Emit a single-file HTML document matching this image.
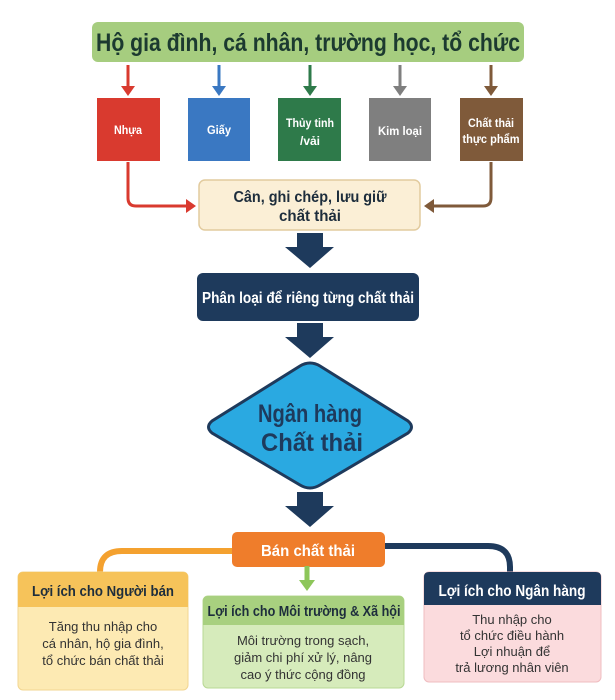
<!DOCTYPE html>
<html><head><meta charset="utf-8"><style>
html,body{margin:0;padding:0;background:#fff;}
svg{display:block;}
.c{font-family:"Liberation Sans Narrow","Liberation Sans",sans-serif;font-weight:bold;}
.r{font-family:"Liberation Sans",sans-serif;}
</style></head><body>
<svg width="615" height="700" viewBox="0 0 615 700" xmlns="http://www.w3.org/2000/svg">
<rect x="92" y="22" width="432" height="40" rx="6" fill="#a6cd7f"/>
<text x="96" y="51" class="c" font-size="25" fill="#1c3a30" textLength="424" lengthAdjust="spacingAndGlyphs">Hộ gia đình, cá nhân, trường học, tổ chức</text>
<g stroke-width="3">
<line x1="128" y1="65" x2="128" y2="88" stroke="#d93a2f"/><polygon points="121,86 135,86 128,96" fill="#d93a2f"/>
<line x1="219" y1="65" x2="219" y2="88" stroke="#3a78c2"/><polygon points="212,86 226,86 219,96" fill="#3a78c2"/>
<line x1="310" y1="65" x2="310" y2="88" stroke="#2e7a4a"/><polygon points="303,86 317,86 310,96" fill="#2e7a4a"/>
<line x1="400" y1="65" x2="400" y2="88" stroke="#7f7f7f"/><polygon points="393,86 407,86 400,96" fill="#7f7f7f"/>
<line x1="491" y1="65" x2="491" y2="88" stroke="#7f5a3a"/><polygon points="484,86 498,86 491,96" fill="#7f5a3a"/>
</g>
<rect x="97" y="98" width="63" height="63" fill="#d93a2f"/>
<rect x="188" y="98" width="62" height="63" fill="#3a78c2"/>
<rect x="278" y="98" width="63" height="63" fill="#2e7a4a"/>
<rect x="369" y="98" width="62" height="63" fill="#7f7f7f"/>
<rect x="460" y="98" width="63" height="63" fill="#7f5a3a"/>
<g class="c" font-size="12" fill="#fff" text-anchor="middle" lengthAdjust="spacingAndGlyphs">
<text x="128" y="134" textLength="28" lengthAdjust="spacingAndGlyphs">Nhựa</text>
<text x="219" y="134" textLength="24" lengthAdjust="spacingAndGlyphs">Giấy</text>
<text x="310" y="127" textLength="48" lengthAdjust="spacingAndGlyphs">Thủy tinh</text><text x="310" y="145" textLength="20" lengthAdjust="spacingAndGlyphs">/vải</text>
<text x="400" y="135" textLength="44" lengthAdjust="spacingAndGlyphs">Kim loại</text>
<text x="491" y="127" textLength="46" lengthAdjust="spacingAndGlyphs">Chất thải</text><text x="491" y="143" textLength="57" lengthAdjust="spacingAndGlyphs">thực phẩm</text>
</g>
<path d="M128 162 V198 Q128 206 136 206 H188" fill="none" stroke="#d93a2f" stroke-width="3"/>
<polygon points="186,199 196,206 186,213" fill="#d93a2f"/>
<path d="M491 162 V198 Q491 206 483 206 H432" fill="none" stroke="#7f5a3a" stroke-width="3"/>
<polygon points="434,199 424,206 434,213" fill="#7f5a3a"/>
<rect x="199" y="180" width="221" height="50" rx="6" fill="#fbefd6" stroke="#e2cb9e" stroke-width="1.5"/>
<text x="310" y="202" text-anchor="middle" class="c" font-size="16" fill="#1d2d3c" textLength="153" lengthAdjust="spacingAndGlyphs">Cân, ghi chép, lưu giữ</text>
<text x="310" y="221" text-anchor="middle" class="c" font-size="16" fill="#1d2d3c" textLength="62" lengthAdjust="spacingAndGlyphs">chất thải</text>
<polygon points="297,233 323,233 323,247 334,247 310,268 285,247 297,247" fill="#1e3a5c"/>
<rect x="197" y="273" width="222" height="48" rx="6" fill="#1e3a5c"/>
<text x="308" y="303" text-anchor="middle" class="c" font-size="16" fill="#fff" textLength="212" lengthAdjust="spacingAndGlyphs">Phân loại để riêng từng chất thải</text>
<polygon points="297,323 323,323 323,337 334,337 310,358 285,337 297,337" fill="#1e3a5c"/>
<path d="M300 366 Q310 360 320 366 L408 421 Q415 427 408 433 L320 485 Q310 491 300 485 L212 433 Q205 427 212 421 Z" fill="#2aa9e1" stroke="#1e3a5c" stroke-width="3"/>
<text x="310" y="422" text-anchor="middle" class="c" font-size="25" fill="#1e3a5c" textLength="104" lengthAdjust="spacingAndGlyphs">Ngân hàng</text>
<text x="312" y="451" text-anchor="middle" class="c" font-size="25" fill="#1e3a5c" textLength="102" lengthAdjust="spacingAndGlyphs">Chất thải</text>
<polygon points="297,492 323,492 323,506 334,506 310,527 285,506 297,506" fill="#1e3a5c"/>
<path d="M235 551 H122 Q100 551 100 572 V578" fill="none" stroke="#f4a12f" stroke-width="6"/>
<polygon points="89,576 111,576 100,589" fill="#f4a12f"/>
<path d="M380 546 H488 Q510 546 510 567 V578" fill="none" stroke="#1e3a5c" stroke-width="6"/>
<polygon points="499,576 521,576 510,589" fill="#1e3a5c"/>
<rect x="232" y="532" width="153" height="35" rx="5" fill="#ef7d2b"/>
<text x="308" y="556" text-anchor="middle" class="c" font-size="16" fill="#fff" textLength="94" lengthAdjust="spacingAndGlyphs">Bán chất thải</text>
<line x1="307" y1="566" x2="307" y2="582" stroke="#8dc65a" stroke-width="5"/>
<polygon points="299,580 315,580 307,591" fill="#8dc65a"/>
<rect x="18" y="572" width="170" height="118" rx="5" fill="#fdeab3" stroke="#f2d692"/>
<path d="M18 577 Q18 572 23 572 H183 Q188 572 188 577 V607 H18 Z" fill="#f6c35a"/>
<text x="103" y="596" text-anchor="middle" class="c" font-size="15" fill="#1d2d3c" textLength="142" lengthAdjust="spacingAndGlyphs">Lợi ích cho Người bán</text>
<g class="r" font-size="13" fill="#333" text-anchor="middle">
<text x="103" y="631">Tăng thu nhập cho</text>
<text x="103" y="648">cá nhân, hộ gia đình,</text>
<text x="103" y="665">tổ chức bán chất thải</text>
</g>
<rect x="203" y="596" width="201" height="92" rx="5" fill="#d6ebbb" stroke="#b8d894"/>
<path d="M203 601 Q203 596 208 596 H399 Q404 596 404 601 V625 H203 Z" fill="#a8d07f"/>
<text x="304" y="616" text-anchor="middle" class="c" font-size="15" fill="#1d2d3c" textLength="193" lengthAdjust="spacingAndGlyphs">Lợi ích cho Môi trường &amp; Xã hội</text>
<g class="r" font-size="13" fill="#333" text-anchor="middle">
<text x="303" y="645">Môi trường trong sạch,</text>
<text x="303" y="662">giảm chi phí xử lý, nâng</text>
<text x="303" y="679">cao ý thức cộng đồng</text>
</g>
<rect x="424" y="572" width="177" height="110" rx="5" fill="#fbdbdd" stroke="#efbcc0"/>
<path d="M424 577 Q424 572 429 572 H596 Q601 572 601 577 V605 H424 Z" fill="#1e3a5c"/>
<text x="512" y="596" text-anchor="middle" class="c" font-size="16" fill="#fff" textLength="147" lengthAdjust="spacingAndGlyphs">Lợi ích cho Ngân hàng</text>
<g class="r" font-size="13" fill="#333" text-anchor="middle">
<text x="512" y="624">Thu nhập cho</text>
<text x="512" y="640">tổ chức điều hành</text>
<text x="512" y="656">Lợi nhuận để</text>
<text x="512" y="672">trả lương nhân viên</text>
</g>
</svg>
</body></html>
